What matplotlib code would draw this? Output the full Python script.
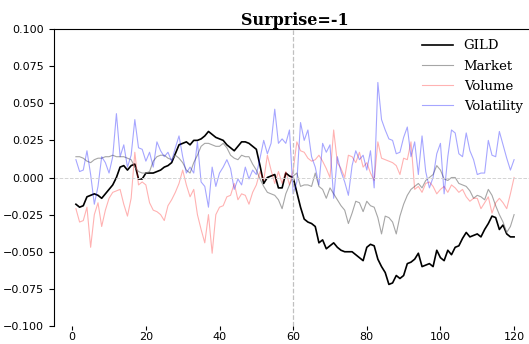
import numpy as np
import matplotlib
matplotlib.use("Agg")
import matplotlib.pyplot as plt

# values, day 1..120
days = np.arange(1, 121)

gild = [-0.018, -0.020, -0.019, -0.013, -0.012, -0.011, -0.012, -0.014, -0.011, -0.008,
        -0.005, 0.000, 0.007, 0.008, 0.005, 0.008, 0.009, -0.001, -0.001, 0.003,
        0.003, 0.003, 0.004, 0.005, 0.007, 0.008, 0.010, 0.016, 0.022, 0.023,
        0.024, 0.022, 0.025, 0.025, 0.026, 0.028, 0.031, 0.029, 0.027, 0.026,
        0.025, 0.022, 0.020, 0.018, 0.021, 0.024, 0.024, 0.023, 0.021, 0.019,
        0.008, -0.004, 0.000, 0.001, 0.002, -0.007, -0.007, 0.003, 0.001, 0.000,
        -0.010, -0.020, -0.028, -0.030, -0.031, -0.033, -0.044, -0.042, -0.048, -0.046,
        -0.044, -0.047, -0.049, -0.050, -0.050, -0.050, -0.052, -0.054, -0.056, -0.047,
        -0.045, -0.046, -0.055, -0.060, -0.064, -0.072, -0.071, -0.066, -0.068, -0.066,
        -0.058, -0.057, -0.055, -0.051, -0.060, -0.059, -0.058, -0.060, -0.049, -0.054,
        -0.056, -0.049, -0.052, -0.047, -0.046, -0.041, -0.037, -0.040, -0.039, -0.038,
        -0.040, -0.035, -0.031, -0.026, -0.027, -0.035, -0.032, -0.038, -0.040, -0.040]

market = [0.014, 0.014, 0.013, 0.011, 0.010, 0.012, 0.013, 0.013, 0.014, 0.014,
          0.015, 0.014, 0.014, 0.014, 0.013, 0.012, 0.007, 0.004, 0.003, 0.003,
          0.004, 0.011, 0.014, 0.015, 0.015, 0.013, 0.012, 0.015, 0.013, 0.010,
          0.005, 0.003, 0.010, 0.015, 0.021, 0.023, 0.023, 0.022, 0.021, 0.021,
          0.023, 0.020, 0.015, 0.013, 0.012, 0.015, 0.014, 0.014, 0.009, 0.005,
          -0.001, -0.006, -0.010, -0.011, -0.012, -0.015, -0.021, -0.011, -0.005, 0.001,
          0.003, -0.006, -0.005, -0.005, -0.006, 0.003, -0.006, -0.008, -0.014, -0.007,
          -0.011, -0.015, -0.019, -0.022, -0.031, -0.024, -0.016, -0.017, -0.023, -0.016,
          -0.019, -0.020, -0.027, -0.038, -0.026, -0.027, -0.030, -0.038, -0.026, -0.018,
          -0.012, -0.008, -0.006, -0.004, -0.007, -0.002, 0.000, 0.002, 0.008, 0.005,
          -0.001, -0.002, 0.000, 0.000, -0.004, -0.005, -0.006, -0.009, -0.014, -0.012,
          -0.013, -0.015, -0.008, -0.012, -0.019, -0.025, -0.030, -0.037, -0.033, -0.025]

volume = [-0.021, -0.030, -0.029, -0.020, -0.047, -0.025, -0.017, -0.033, -0.022, -0.014,
          -0.010, -0.009, -0.008, -0.018, -0.026, -0.014, 0.017, -0.005, -0.003, -0.005,
          -0.017, -0.022, -0.023, -0.025, -0.029, -0.019, -0.015, -0.010, -0.004, 0.005,
          -0.005, -0.013, -0.008, -0.025, -0.035, -0.044, -0.025, -0.051, -0.025, -0.020,
          -0.019, -0.013, -0.012, -0.004, -0.015, -0.011, -0.012, -0.018, -0.010, -0.005,
          0.004, -0.002, 0.015, 0.005, -0.004, 0.004, -0.004, 0.004, -0.005, 0.005,
          0.024, 0.018, 0.017, 0.013, 0.011, 0.012, 0.015, 0.011, 0.006, 0.000,
          0.032, 0.010, 0.006, 0.000, 0.015, 0.014, 0.010, 0.017, 0.007, 0.010,
          0.003, -0.002, 0.024, 0.013, 0.012, 0.011, 0.010, 0.008, 0.002, 0.013,
          0.012, 0.024, -0.008, -0.006, -0.010, -0.004, -0.003, -0.006, -0.011, -0.008,
          -0.006, -0.010, -0.005, -0.007, -0.010, -0.008, -0.013, -0.016, -0.014, -0.014,
          -0.021, -0.017, -0.013, -0.024, -0.017, -0.014, -0.017, -0.021, -0.011, 0.000]

volatility = [0.012, 0.004, 0.005, 0.018, 0.002, -0.018, -0.006, 0.014, 0.010, 0.003,
              0.014, 0.043, 0.014, 0.022, 0.007, 0.015, 0.039, 0.020, 0.019, 0.011,
              0.017, 0.007, 0.024, 0.018, 0.014, 0.017, 0.011, 0.020, 0.028, 0.014,
              0.003, 0.007, 0.003, 0.024, -0.003, -0.006, -0.020, 0.007, -0.006, 0.003,
              0.007, 0.012, 0.006, -0.008, -0.001, -0.005, 0.007, -0.001, 0.005, 0.002,
              0.013, 0.025, 0.016, 0.023, 0.046, 0.023, 0.026, 0.023, 0.032, -0.011,
              -0.003, 0.037, 0.025, 0.032, 0.014, 0.007, -0.005, 0.023, 0.017, 0.022,
              -0.014, 0.014, 0.004, -0.003, -0.012, 0.008, 0.018, 0.012, 0.015, 0.005,
              0.018, -0.007, 0.064, 0.039, 0.032, 0.026, 0.025, 0.016, 0.017, 0.027,
              0.034, 0.014, 0.024, 0.002, 0.028, 0.004, -0.007, 0.000, 0.016, 0.023,
              -0.011, 0.014, 0.032, 0.030, 0.016, 0.014, 0.030, 0.018, 0.012, 0.002,
              0.003, 0.003, 0.025, 0.015, 0.014, 0.031, 0.022, 0.013, 0.005, 0.012]

event_day = 60
title = "Surprise=-1"

fig = plt.figure(figsize=(5.29, 3.44), dpi=100)
ax = fig.add_axes([54 / 529, 18 / 344, 482 / 529, 297 / 344])

ax.plot(days, gild, color="black", lw=1.2, label="GILD")
ax.plot(days, market, color="gray", lw=0.8, alpha=0.7, label="Market")
ax.plot(days, volume, color="red", lw=0.8, alpha=0.3, label="Volume")
ax.plot(days, volatility, color="blue", lw=0.8, alpha=0.35, label="Volatility")

ax.axhline(0, color="lightgray", ls="--", lw=0.7)
ax.axvline(event_day, color="silver", ls="--", lw=0.9)

ax.set_ylim(-0.1, 0.1)
ax.set_xticks([0, 20, 40, 60, 80, 100, 120])
ax.set_yticks(np.linspace(-0.1, 0.1, 9))
ax.tick_params(labelsize=8)
ax.tick_params(axis="x", length=3, pad=1.5)
ax.spines["right"].set_visible(False)
ax.spines["bottom"].set_visible(False)

ax.set_title(title, fontfamily="DejaVu Serif", fontweight="bold", fontsize=11.5, pad=1)
ax.legend(loc="upper right", bbox_to_anchor=(528 / 529, 1 - 34 / 344),
          bbox_transform=fig.transFigure, frameon=False,
          prop={"family": "DejaVu Serif", "size": 9.5}, handlelength=2.4,
          labelspacing=0.55, borderaxespad=0)

fig.savefig("out.png", dpi=100)
